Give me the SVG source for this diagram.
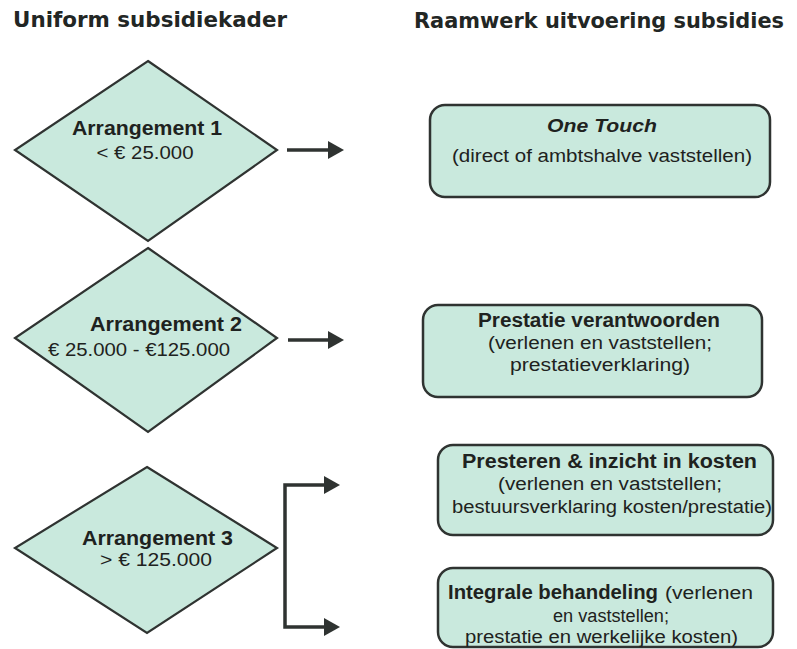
<svg xmlns="http://www.w3.org/2000/svg" width="797" height="649" viewBox="0 0 797 649">
<style>
.bg{fill:#ffffff}
.shape{fill:#c9e9dd;stroke:#2f3331;stroke-width:2.2;stroke-linejoin:miter}
.box{fill:#c9e9dd;stroke:#2f3331;stroke-width:2.5}
.title{font-family:"DejaVu Sans",Verdana,sans-serif;font-weight:bold;font-size:21px;fill:#222624}
.t2{font-size:20.5px}
.b{font-family:"Liberation Sans",Arial,sans-serif;font-weight:bold;font-size:19.5px;fill:#1e2220}
.r{font-family:"Liberation Sans",Arial,sans-serif;font-size:18px;fill:#1e2220}
.bi{font-family:"Liberation Sans",Arial,sans-serif;font-weight:bold;font-style:italic;font-size:18.5px;fill:#1e2220}
.c{text-anchor:middle}
.conn{fill:none;stroke:#2f3331;stroke-width:3.5}
</style>
<defs>
<marker id="ah" markerUnits="userSpaceOnUse" markerWidth="17" markerHeight="20" refX="4" refY="10" orient="auto">
<path d="M0,1 L16,10 L0,19 Z" fill="#2f3331"/>
</marker>
</defs>
<rect class="bg" x="0" y="0" width="797" height="649"/>
<g id="titles">
<text class="title" x="13" y="27" textLength="274" lengthAdjust="spacingAndGlyphs">Uniform subsidiekader</text>
<text class="title t2" x="414" y="28" textLength="370" lengthAdjust="spacingAndGlyphs">Raamwerk uitvoering subsidies</text>
</g>
<g id="arrangement1">
<polygon class="shape" points="148,61 277,150 148,241 15,150"/>
<text class="b c" x="147" y="135" textLength="150" lengthAdjust="spacingAndGlyphs">Arrangement 1</text>
<text class="r c" x="145" y="159" textLength="97" lengthAdjust="spacingAndGlyphs">&lt; € 25.000</text>
</g>
<g id="arrangement2">
<polygon class="shape" points="148,248 277,338 148,432 15,338"/>
<text class="b c" x="166" y="331" textLength="152" lengthAdjust="spacingAndGlyphs">Arrangement 2</text>
<text class="r c" x="139" y="356" textLength="182" lengthAdjust="spacingAndGlyphs">€ 25.000 - €125.000</text>
</g>
<g id="arrangement3">
<polygon class="shape" points="147,467 277,548 147,633 15,548"/>
<text class="b c" x="157.5" y="545" textLength="151" lengthAdjust="spacingAndGlyphs">Arrangement 3</text>
<text class="r c" x="156" y="566" textLength="112" lengthAdjust="spacingAndGlyphs">&gt; € 125.000</text>
</g>
<g id="onetouch">
<rect class="box" x="430" y="105" width="340" height="92" rx="15" ry="15"/>
<text class="bi c" x="602" y="132" textLength="110" lengthAdjust="spacingAndGlyphs">One Touch</text>
<text class="r c" x="602" y="162" textLength="300" lengthAdjust="spacingAndGlyphs">(direct of ambtshalve vaststellen)</text>
</g>
<g id="prestatie">
<rect class="box" x="423" y="305" width="339" height="92" rx="15" ry="15"/>
<text class="b c" x="599" y="327" textLength="242" lengthAdjust="spacingAndGlyphs">Prestatie verantwoorden</text>
<text class="r c" x="600" y="349" textLength="224" lengthAdjust="spacingAndGlyphs">(verlenen en vaststellen;</text>
<text class="r c" x="600" y="371" textLength="180" lengthAdjust="spacingAndGlyphs">prestatieverklaring)</text>
</g>
<g id="presteren">
<rect class="box" x="438" y="445" width="335" height="90" rx="15" ry="15"/>
<text class="b c" x="609.5" y="468" textLength="295" lengthAdjust="spacingAndGlyphs">Presteren &amp; inzicht in kosten</text>
<text class="r c" x="610" y="490" textLength="224" lengthAdjust="spacingAndGlyphs">(verlenen en vaststellen;</text>
<text class="r c" x="612" y="513" textLength="320" lengthAdjust="spacingAndGlyphs">bestuursverklaring kosten/prestatie)</text>
</g>
<g id="integraal">
<rect class="box" x="438" y="568" width="335" height="79" rx="15" ry="15"/>
<text class="b" x="448" y="599" textLength="210" lengthAdjust="spacingAndGlyphs">Integrale behandeling</text>
<text class="r" x="665" y="599" textLength="88" lengthAdjust="spacingAndGlyphs">(verlenen</text>
<text class="r c" x="611" y="622" textLength="116" lengthAdjust="spacingAndGlyphs">en vaststellen;</text>
<text class="r c" x="601.5" y="643" textLength="273" lengthAdjust="spacingAndGlyphs">prestatie en werkelijke kosten)</text>
</g>
<g id="connectors">
<path class="conn" d="M287,150 H332" marker-end="url(#ah)"/>
<path class="conn" d="M288,340 H332" marker-end="url(#ah)"/>
<path class="conn" d="M285,556 V485 H328" marker-end="url(#ah)"/>
<path class="conn" d="M285,556 V627 H328" marker-end="url(#ah)"/>
</g>
</svg>
